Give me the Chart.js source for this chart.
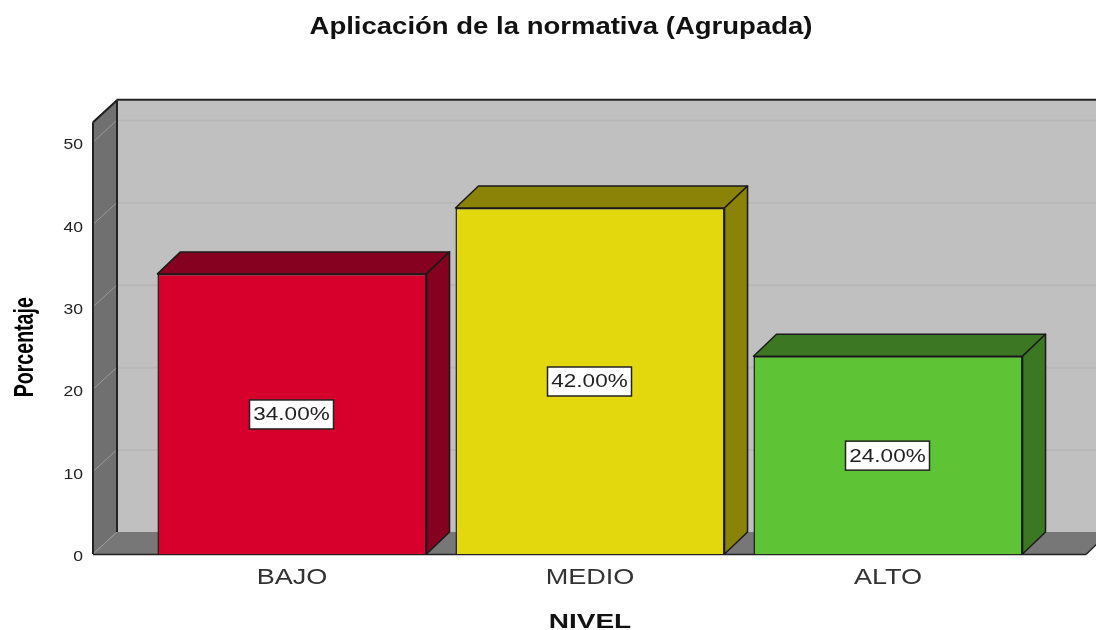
<!DOCTYPE html>
<html><head><meta charset="utf-8">
<style>html,body{margin:0;padding:0;background:#fff}canvas{display:block}</style>
<script src="https://cdn.jsdelivr.net/npm/chart.js@4"></script></head>
<body><canvas id="c" width="1096" height="630"></canvas>
<script>
const categories = ['BAJO', 'MEDIO', 'ALTO'];
const percentages = [34, 42, 24];
const frontColors = ['#d7002d', '#e3d80d', '#5ec436'];
const depthColors = ['#86001f', '#8b8208', '#3c7724'];
const yTicks = [0, 10, 20, 30, 40, 50];
const titleText = 'Aplicación de la normativa (Agrupada)';
const xTitle = 'NIVEL';
const yTitle = 'Porcentaje';

const DX = 23, DY = 22, WALL_X = 93, WALL_TOP = 52.4, FLOOR_R = 1086, FONT = 'Liberation Sans';
function poly(ctx, pts, fill, stroke, lw) {
  ctx.beginPath();
  pts.forEach((p, i) => i ? ctx.lineTo(p[0], p[1]) : ctx.moveTo(p[0], p[1]));
  ctx.closePath();
  if (fill) { ctx.fillStyle = fill; ctx.fill(); }
  if (stroke) { ctx.strokeStyle = stroke; ctx.lineWidth = lw || 1; ctx.lineJoin = 'round'; ctx.stroke(); }
}
function line(ctx, x1, y1, x2, y2, c, w) {
  ctx.beginPath(); ctx.moveTo(x1, y1); ctx.lineTo(x2, y2);
  ctx.strokeStyle = c; ctx.lineWidth = w; ctx.stroke();
}
// The reference's text is horizontally stretched: widen the library's own text drawing.
function stretchLabels(s, k, ctx) {
  const items = s.getLabelItems.bind(s), draw = s.drawLabels.bind(s);
  s.getLabelItems = a => items(a).map(it => ({ ...it, options: { ...it.options,
    translation: [it.options.translation[0] / k, it.options.translation[1]] } }));
  s.drawLabels = a => { ctx.save(); ctx.scale(k, 1); draw(a); ctx.restore(); };
}
function stretchAbout(obj, name, ctx, cx, cy, kx, ky) {
  const draw = obj[name].bind(obj);
  obj[name] = a => { ctx.save(); ctx.translate(cx, cy); ctx.scale(kx, ky); ctx.translate(-cx, -cy); draw(a); ctx.restore(); };
}
const box3d = {
  id: 'box3d',
  afterLayout(chart) {
    if (chart.$stretched) return;
    chart.$stretched = true;
    const ctx = chart.ctx, x = chart.scales.x, y = chart.scales.y, tb = chart.titleBlock;
    tb.left = 26; tb.right = 1096;
    stretchAbout(tb, 'draw', ctx, 561, 27, 1.196, 1);
    stretchLabels(x, 1.23, ctx);
    stretchLabels(y, 1.17, ctx);
    stretchAbout(x, 'drawTitle', ctx, 590, 620, 1.4, 1);
    stretchAbout(y, 'drawTitle', ctx, 24, 345, 1, 0.725);
  },
  beforeDatasetsDraw(chart) {
    const ctx = chart.ctx, y = chart.scales.y, W = chart.width;
    const y0 = y.getPixelForValue(0), yT = y.getPixelForValue(WALL_TOP);
    const bx = WALL_X + DX + 1;
    ctx.save();
    poly(ctx, [[bx, yT - DY], [W + 5, yT - DY], [W + 5, y0 - DY], [bx, y0 - DY]], '#c0c0c0');
    poly(ctx, [[WALL_X, y0], [bx, y0 - DY], [FLOOR_R + DX, y0 - DY], [FLOOR_R, y0]], '#777777');
    poly(ctx, [[WALL_X, yT], [bx, yT - DY], [bx, y0 - DY], [WALL_X, y0]], '#707070');
    yTicks.forEach(t => {
      const p = y.getPixelForValue(t);
      if (t > 0) line(ctx, bx, p - DY + .5, W, p - DY + .5, '#b8b8b8', 2);
      line(ctx, WALL_X, p, bx, p - DY, '#9a9a9a', 1);
    });
    line(ctx, WALL_X, yT, bx, yT - DY, '#1c1c1c', 2);
    line(ctx, bx - .5, yT - DY - .5, W, yT - DY - .5, '#222222', 2);
    line(ctx, bx, yT - DY, bx, y0 - DY, '#222222', 2);
    line(ctx, WALL_X, yT, WALL_X, y0, '#222222', 2);
    line(ctx, WALL_X, y0 + .5, FLOOR_R, y0 + .5, '#222222', 1.5);
    line(ctx, FLOOR_R, y0 + .5, FLOOR_R + DX, y0 - DY, '#222222', 1.5);
    chart.getDatasetMeta(0).data.forEach((b, i) => {
      const l = b.x - b.width / 2, r = b.x + b.width / 2, t = b.y, bt = b.base;
      poly(ctx, [[l, t], [l + DX, t - DY], [r + DX, t - DY], [r, t]], depthColors[i], '#1a1a1a', 1.5);
      poly(ctx, [[r, t], [r + DX, t - DY], [r + DX, bt - DY], [r, bt]], depthColors[i], '#1a1a1a', 1.5);
    });
    ctx.restore();
  },
  afterDatasetsDraw(chart) {
    const ctx = chart.ctx;
    chart.getDatasetMeta(0).data.forEach((b, i) => {
      const cx = b.x - .5, cy = (b.y + b.base) / 2;
      ctx.save();
      ctx.fillStyle = '#fff';
      ctx.fillRect(cx - 42, cy - 14, 84, 29);
      ctx.strokeStyle = '#222'; ctx.lineWidth = 1.5;
      ctx.strokeRect(cx - 42, cy - 14, 84, 29);
      ctx.translate(cx, cy + 1.5);
      ctx.scale(1.25, 1);
      ctx.font = `18px "${FONT}"`;
      ctx.textAlign = 'center'; ctx.textBaseline = 'middle';
      ctx.fillStyle = '#222';
      ctx.fillText(percentages[i].toFixed(2) + '%', 0, 0);
      ctx.restore();
    });
  }
};
new Chart(document.getElementById('c'), {
  type: 'bar',
  data: { labels: categories, datasets: [{
    data: percentages, backgroundColor: frontColors, borderColor: '#1a1a1a',
    borderWidth: 1.5, barPercentage: 0.903, categoryPercentage: 1, clip: false
  }]},
  plugins: [box3d],
  options: {
    responsive: false, animation: false, devicePixelRatio: 1,
    layout: { padding: { right: 59 } },
    plugins: {
      legend: { display: false }, tooltip: { enabled: false },
      title: { display: true, text: titleText, color: '#111',
        font: { family: FONT, size: 23, weight: 'bold' },
        padding: { top: 13.5, bottom: 101 } }
    },
    scales: {
      x: {
        grid: { display: false, drawTicks: false }, border: { display: false },
        ticks: { color: '#333', padding: 11, font: { family: FONT, size: 22 } },
        title: { display: true, text: xTitle, color: '#111', padding: { top: 14, bottom: -4 },
          font: { family: FONT, size: 20, weight: 'bold' } },
        afterFit: s => { s.height = 76; }
      },
      y: {
        min: 0, max: 50,
        grid: { display: false, drawTicks: false }, border: { display: false },
        afterBuildTicks: s => { s.ticks = yTicks.map(v => ({ value: v })); },
        ticks: { color: '#222', padding: 60, labelOffset: 3, font: { family: FONT, size: 15 } },
        title: { display: true, text: yTitle, color: '#000', padding: { top: 9, bottom: 0 },
          font: { family: FONT, size: 27, weight: 'bold' } },
        afterFit: s => { s.width = 143; }
      }
    }
  }
});
</script></body></html>
